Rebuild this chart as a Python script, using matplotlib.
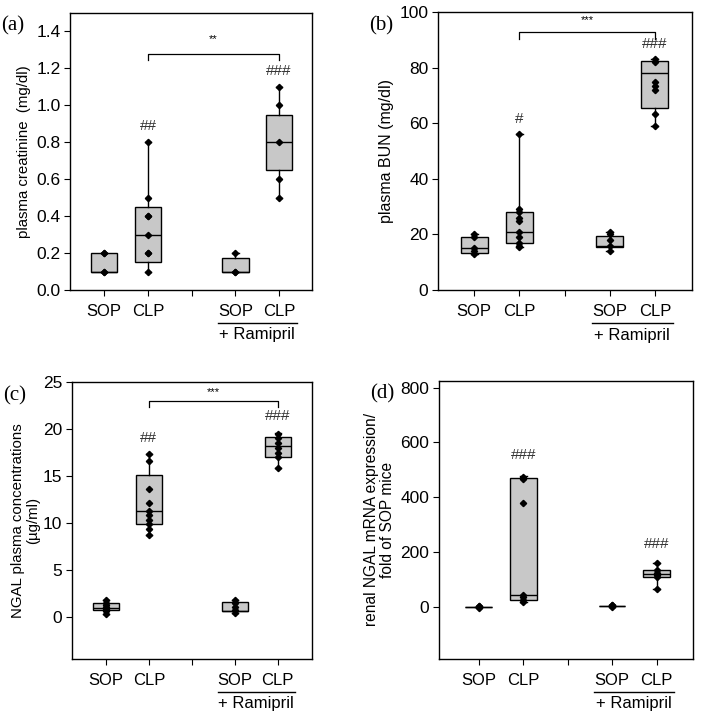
import matplotlib.pyplot as plt
from matplotlib.transforms import blended_transform_factory

groups = ['SOP', 'CLP', 'SOP', 'CLP']
positions = [1, 2, 4, 5]

# (a) plasma creatinine
a_q1 = [0.1, 0.15, 0.1, 0.65]
a_med = [0.1, 0.3, 0.1, 0.8]
a_q3 = [0.2, 0.45, 0.175, 0.95]
a_lo = [0.1, 0.1, 0.1, 0.5]
a_hi = [0.2, 0.8, 0.2, 1.1]
a_pts = [[0.1, 0.1, 0.2, 0.2],
         [0.1, 0.2, 0.2, 0.3, 0.4, 0.4, 0.5, 0.8],
         [0.1, 0.1, 0.2],
         [0.5, 0.6, 0.8, 1.0, 1.1]]
a_marks = ['', '##', '', '###']
a_mark_y = [0, 0.85, 0, 1.15]

# (b) plasma BUN
b_q1 = [13.5, 17, 15.5, 65.5]
b_med = [15.3, 21, 16, 78]
b_q3 = [19, 28, 19.5, 82.5]
b_lo = [13, 15.5, 14, 59]
b_hi = [20, 56, 21, 83]
b_pts = [[13, 14, 15, 19, 20],
         [15.5, 16, 17, 19, 21, 25, 26, 28, 29, 56],
         [14, 16, 18, 20, 21],
         [59, 63.5, 72, 73.5, 75, 82, 83]]
b_marks = ['', '#', '', '###']
b_mark_y = [0, 59, 0, 86]

# (c) NGAL plasma
c_q1 = [0.7, 9.9, 0.6, 17.0]
c_med = [0.9, 11.3, 0.6, 18.2]
c_q3 = [1.5, 15.1, 1.6, 19.2]
c_lo = [0.3, 8.7, 0.4, 15.8]
c_hi = [1.8, 17.3, 1.8, 19.6]
c_pts = [[0.3, 0.6, 0.8, 1.0, 1.2, 1.5, 1.8],
         [8.7, 9.3, 9.9, 10.3, 10.8, 11.3, 12.1, 13.6, 16.6, 17.3],
         [0.4, 0.7, 1.0, 1.5, 1.8],
         [15.8, 17.0, 17.5, 18.0, 18.5, 19.0, 19.5]]
c_marks = ['', '##', '', '###']
c_mark_y = [0, 18.3, 0, 20.6]

# (d) renal NGAL mRNA
d_q1 = [0, 25, 2, 110]
d_med = [0, 45, 2, 120]
d_q3 = [0, 470, 2, 133]
d_lo = [0, 18, 0, 65]
d_hi = [0, 478, 8, 160]
d_pts = [[-3, 0, 2, 4],
         [18, 25, 35, 45, 380, 465, 475],
         [0, 2, 5, 8],
         [65, 110, 115, 120, 125, 135, 160]]
d_marks = ['', '###', '', '###']
d_mark_y = [0, 530, 0, 205]

plt.rcParams['font.family'] = ['Liberation Sans', 'DejaVu Sans']

fig = plt.figure(figsize=(7.01, 7.17), dpi=100)


def panel(rect, q1, med, q3, lo, hi, pts, marks, mark_y, ylim, yticks,
          ylabel, letter, xlim, bracket=None, ylabel_size=11, labelpad=4):
    ax = fig.add_axes(rect)
    stats = []
    for i in range(4):
        stats.append(dict(q1=q1[i], med=med[i], q3=q3[i],
                          whislo=lo[i], whishi=hi[i], fliers=[]))
    ax.bxp(stats, positions=positions, widths=0.6, patch_artist=True,
           showfliers=False, capwidths=0.15,
           boxprops=dict(facecolor='#c8c8c8', edgecolor='black', lw=1.0),
           medianprops=dict(color='black', lw=1.0),
           whiskerprops=dict(color='black', lw=1.0),
           capprops=dict(color='black', lw=1.0), zorder=2)
    for i in range(4):
        ax.plot([positions[i]] * len(pts[i]), pts[i], 'D', color='black',
                ms=3.2, zorder=3)
        if marks[i]:
            ax.text(positions[i], mark_y[i], marks[i], ha='center',
                    va='bottom', fontsize=11, color='#333333')
    if bracket:
        by, bdrop, stars, sy = bracket
        ax.plot([2, 2, 5, 5], [by - bdrop, by, by, by - bdrop], color='black', lw=0.9)
        ax.text(3.5, sy, stars, ha='center', va='bottom', fontsize=8)
    ax.set_xlim(*xlim)
    ax.set_ylim(*ylim)
    ax.set_yticks(yticks)
    ax.set_yticklabels([str(t) for t in yticks], fontsize=12.5)
    ax.set_xticks([1, 2, 3, 4, 5])
    ax.set_xticklabels(['SOP', 'CLP', '', 'SOP', 'CLP'], fontsize=12)
    ax.tick_params(direction='out', length=4, width=0.8, pad=6)
    ax.tick_params(axis='y', pad=3)
    ax.set_ylabel(ylabel, fontsize=ylabel_size, labelpad=labelpad,
                  linespacing=1.05)
    for s in ax.spines.values():
        s.set_linewidth(1.0)
    tr = blended_transform_factory(ax.transData, ax.transAxes)
    ax.plot([3.6, 5.4], [-0.12, -0.12], color='black', lw=1.0,
            transform=tr, clip_on=False)
    ax.text(4.5, -0.135, '+ Ramipril', transform=tr, ha='center', va='top',
            fontsize=12)
    fig.text(rect[0] - 0.098, rect[1] + rect[3] - 0.005, letter,
             family='Liberation Serif', fontsize=15, va='top')
    return ax


ax_a = panel([0.1, 0.5955, 0.345, 0.3865], a_q1, a_med, a_q3, a_lo, a_hi,
             a_pts, a_marks, a_mark_y, (0, 1.5),
             [0.0, 0.2, 0.4, 0.6, 0.8, 1.0, 1.2, 1.4],
             'plasma creatinine  (mg/dl)', '(a)', (0.22, 5.75),
             bracket=(1.28, 0.035, '**', 1.33), ylabel_size=10.8)
ax_a.set_yticklabels(['0.0', '0.2', '0.4', '0.6', '0.8', '1.0', '1.2', '1.4'])

panel([0.625, 0.5955, 0.362, 0.3875], b_q1, b_med, b_q3, b_lo, b_hi,
      b_pts, b_marks, b_mark_y, (0, 100), [0, 20, 40, 60, 80, 100],
      'plasma BUN (mg/dl)', '(b)', (0.2, 5.82),
      bracket=(93, 2.5, '***', 95.5), ylabel_size=11.5)

panel([0.1027, 0.081, 0.342, 0.386], c_q1, c_med, c_q3, c_lo, c_hi,
      c_pts, c_marks, c_mark_y, (-4.5, 25), [0, 5, 10, 15, 20, 25],
      'NGAL plasma concentrations\n(µg/ml)', '(c)', (0.21, 5.79),
      bracket=(23, 0.65, '***', 23.4), ylabel_size=10.8, labelpad=2)

panel([0.626, 0.081, 0.362, 0.388], d_q1, d_med, d_q3, d_lo, d_hi,
      d_pts, d_marks, d_mark_y, (-190, 825), [0, 200, 400, 600, 800],
      'renal NGAL mRNA expression/\nfold of SOP mice', '(d)', (0.1, 5.81),
      ylabel_size=11.2)

fig.savefig('out.png', dpi=100)
